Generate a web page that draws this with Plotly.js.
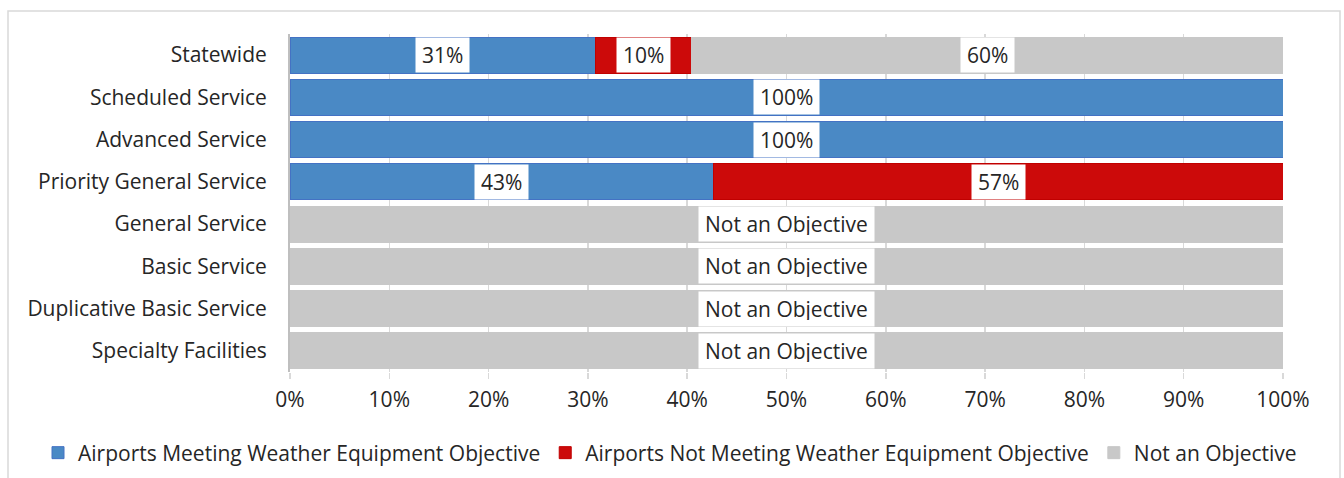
<!DOCTYPE html>
<html><head><meta charset="utf-8">
<script src="https://cdn.plot.ly/plotly-3.0.1.min.js"></script>
<style>html,body{margin:0;padding:0;background:#fff}#chart{width:1344px;height:478px}</style>
</head><body><div id="chart"></div>
<script>
const categories = ['Statewide','Scheduled Service','Advanced Service','Priority General Service','General Service','Basic Service','Duplicative Basic Service','Specialty Facilities'];
const meeting = [30.8, 100, 100, 42.6, 0, 0, 0, 0];
const notMeeting = [9.6, 0, 0, 57.4, 0, 0, 0, 0];
const notObjective = [59.6, 0, 0, 0, 100, 100, 100, 100];
const meetingLabels = ['31%','100%','100%','43%','','','',''];
const notMeetingLabels = ['10%','','','57%','','','',''];
const notObjectiveLabels = ['60%','','','','Not an Objective','Not an Objective','Not an Objective','Not an Objective'];
const seriesNames = ['Airports Meeting Weather Equipment Objective','Airports Not Meeting Weather Equipment Objective','Not an Objective'];

const FONT = '"Open Sans", sans-serif';
const FS = 21;
const colors = ['#4A89C5','#CC0A0A','#C8C8C8'];
const lines = ['#4472C4','#C00000','#C8C8C8'];
const vals = [meeting, notMeeting, notObjective];
const labs = [meetingLabels, notMeetingLabels, notObjectiveLabels];

const traces = vals.map((v,i)=>({
  type:'bar', orientation:'h', name:seriesNames[i], y:categories, x:v,
  marker:{color:colors[i], line:{color:lines[i], width:1}},
  hoverinfo:'skip'
}));

const annotations = [];
categories.forEach((c,j)=>{
  let start = 0;
  vals.forEach((v,i)=>{
    const val = v[j];
    if (labs[i][j]) {
      annotations.push({x:start+val/2, y:c, xref:'x', yref:'y', text:labs[i][j], showarrow:false,
        bgcolor:'#ffffff', borderpad:6, height:22, font:{family:FONT, size:FS, color:'#262626'}});
    }
    start += val;
  });
});

const layout = {
  width:1344, height:478,
  margin:{l:290, r:61, t:34, b:106, autoexpand:false},
  paper_bgcolor:'#ffffff', plot_bgcolor:'#ffffff',
  barmode:'stack', bargap:0.15,
  font:{family:FONT, size:FS, color:'#262626'},
  xaxis:{range:[0,100], dtick:10, ticksuffix:'%', showgrid:true, gridcolor:'#D9D9D9', gridwidth:1.5,
    ticks:'outside', ticklen:6, tickcolor:'#D9D9D9', tickwidth:1.5, zeroline:false, showline:false,
    ticklabelstandoff:3, tickfont:{family:FONT, size:FS, color:'#262626'}, fixedrange:true},
  yaxis:{autorange:'reversed', showline:true, linecolor:'#BFBFBF', linewidth:2, ticks:'', ticklabelstandoff:17,
    tickfont:{family:FONT, size:FS, color:'#262626'}, fixedrange:true},
  showlegend:true,
  legend:{orientation:'h', xref:'paper', yref:'paper', x:(38-290)/993, xanchor:'left', y:(372-453)/338, yanchor:'middle',
    font:{family:FONT, size:21, color:'#262626'}, itemwidth:30, traceorder:'normal'},
  annotations:annotations,
  shapes:[{type:'rect', xref:'paper', yref:'paper', x0:(8-290)/993, x1:(1340-290)/993, y0:(372-485)/338, y1:(372-11)/338,
    line:{color:'#D9D9D9', width:1.5}, fillcolor:'rgba(0,0,0,0)', layer:'below'}]
};
Plotly.newPlot('chart', traces, layout, {displayModeBar:false, staticPlot:true});
</script></body></html>
